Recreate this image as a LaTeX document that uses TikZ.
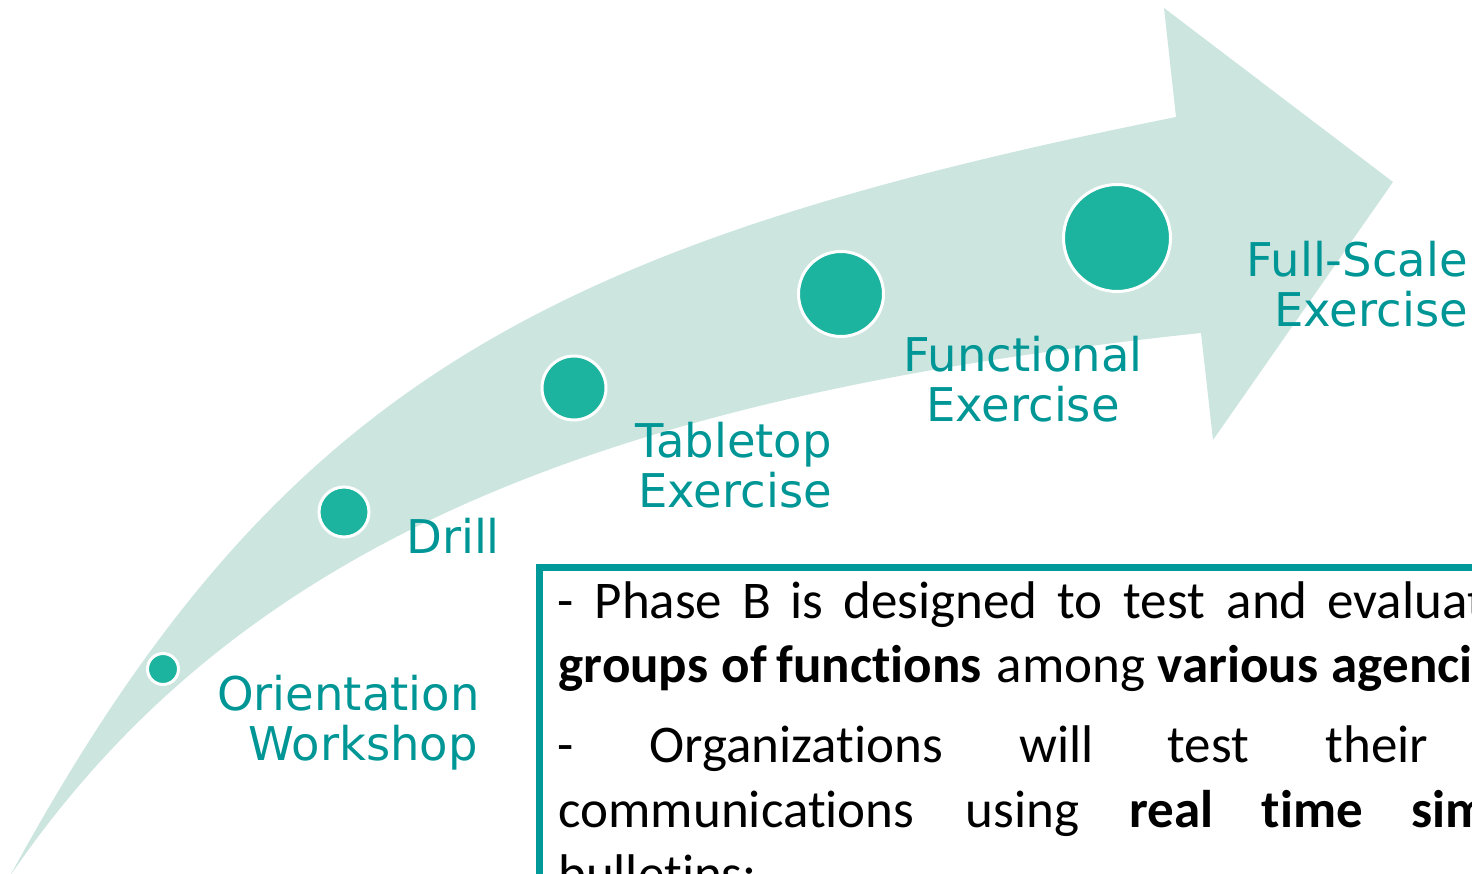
\documentclass[tikz,border=0pt]{standalone}
\usepackage{fontspec}
\setmainfont{Carlito}[RawFeature={-liga}]
\newfontfamily\lblfont{DejaVu Sans}
\definecolor{band}{HTML}{CCE5DF}
\definecolor{dot}{HTML}{1CB39F}
\definecolor{lbl}{HTML}{009696}
\definecolor{frame}{HTML}{009999}
\newcommand\wordat[2]{\makebox[0pt][l]{\hspace*{#1pt}#2}}
\tikzset{
  stage/.style={circle, fill=dot, draw=white, line width=3pt, inner sep=0pt},
  lbltext/.style={text=lbl, font=\lblfont\fontsize{46.5}{48}\selectfont, inner sep=0pt},
  bodytext/.style={font=\fontsize{53}{64}\selectfont, inner sep=0pt, anchor=base west},
}
\begin{document}
\begin{tikzpicture}[x=1pt,y=-1pt]
\useasboundingbox (0,0) rectangle (1472,874);
\clip (0,0) rectangle (1472,874);
% curved arrow band
\fill[band] (10,876) .. controls (276,388) and (539,245) .. (1176,117)
  -- (1164,8) -- (1393,182) -- (1213,440) -- (1201,333)
  .. controls (605,396) and (238,542) .. (10,876) -- cycle;
% stage dots
\node[stage, minimum size=31pt] (d1) at (163,669) {};
\node[stage, minimum size=50pt] (d2) at (344,512) {};
\node[stage, minimum size=64pt] (d3) at (574,388) {};
\node[stage, minimum size=85pt] (d4) at (841,294) {};
\node[stage, minimum size=107pt] (d5) at (1117,238) {};
% labels
\node[lbltext, anchor=base east] (orA) at (480,710) {Orientation};
\node[lbltext, anchor=base east] (orB) at (478,760) {Workshop};
\node[lbltext, anchor=base west] (dr) at (406,553) {Drill};
\node[lbltext, anchor=base east] (tbA) at (832,457) {Tabletop};
\node[lbltext, anchor=base east] (tbB) at (832,507) {Exercise};
\node[lbltext, anchor=base] (fnA) at (1023,372) {Functional};
\node[lbltext, anchor=base] (fnB) at (1023,421) {Exercise};
\node[lbltext, anchor=base east] (fsA) at (1468,277) {Full-Scale};
\node[lbltext, anchor=base east] (fsB) at (1468,327) {Exercise};
% text box
\draw[frame, line width=7pt] (539,567) rectangle (1540,940);
\node[bodytext] (t1) at (557,618) {\wordat{0}{-}\wordat{37}{Phase}\wordat{185}{B}\wordat{233}{is}\wordat{286}{designed}\wordat{500}{to}\wordat{566}{test}\wordat{669}{and}\wordat{770}{evaluat}};
\node[bodytext] (t2) at (558,682) {\wordat{0}{\textbf{groups}}\wordat{163}{\textbf{of}}\wordat{218}{\textbf{functions}}\wordat{438}{among}\wordat{599}{\textbf{various}}\wordat{773}{\textbf{agenci}}};
\node[bodytext] (t3) at (557,762) {\wordat{0}{-}\wordat{92}{Organizations}\wordat{462}{will}\wordat{610}{test}\wordat{768}{their}};
\node[bodytext] (t4) at (558,827) {\wordat{0}{communications}\wordat{407}{using}\wordat{571}{\textbf{real}}\wordat{703}{\textbf{time}}\wordat{853}{\textbf{sim}}};
\node[bodytext] (t5) at (558,891) {bulletins:};
\end{tikzpicture}
\end{document}
